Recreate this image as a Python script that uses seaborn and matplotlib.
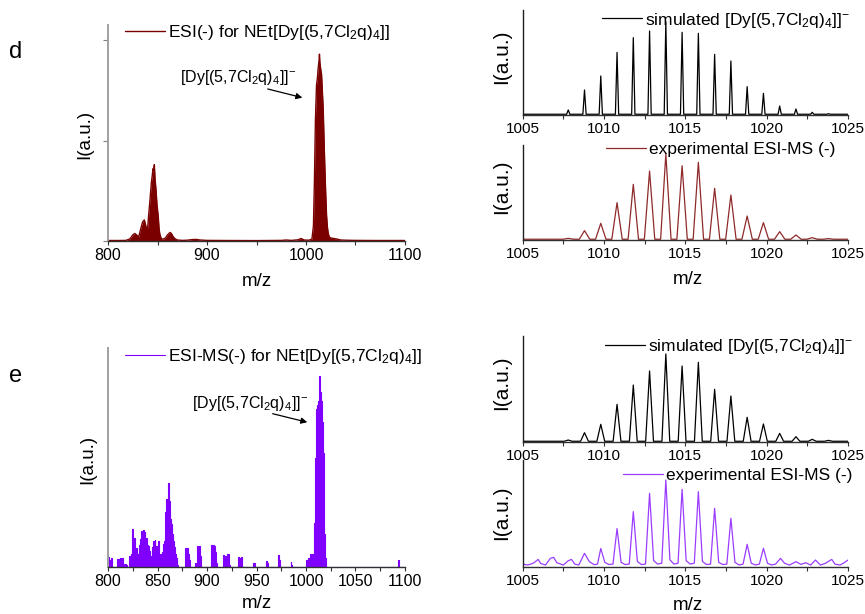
import matplotlib
matplotlib.use('Agg')
import matplotlib.pyplot as plt
from matplotlib.ticker import MultipleLocator
import pandas as pd
import seaborn as sns

# ---------------- data ----------------
# panel d, full spectrum ESI(-)
d_full_mz = [800, 810, 818, 822, 825, 827, 829, 831, 833, 835, 836.7, 838, 839.7, 841, 842.4,
             843.8, 844.8, 845.5, 846.2, 846.8, 847.5, 848.5, 849.5, 850.8, 851.6, 852.5, 854,
             856, 858, 860, 862.6, 864, 866, 868, 870, 875, 880, 885, 889, 893, 900, 920, 950,
             975, 980, 985, 992, 995, 998, 1003, 1006, 1007.5, 1008.5, 1009.5, 1010.6, 1011.5,
             1012.3, 1013.2, 1013.6, 1014, 1015, 1015.7, 1016.5, 1017.4, 1018.2, 1019, 1020,
             1020.8, 1021.6, 1022.4, 1023.5, 1025, 1028, 1031, 1035, 1040, 1050, 1070, 1100]
d_full_int = [0.005, 0.005, 0.006, 0.02, 0.06, 0.075, 0.06, 0.04, 0.12, 0.19, 0.21, 0.16, 0.09,
              0.25, 0.41, 0.58, 0.66, 0.72, 0.70, 0.76, 0.62, 0.51, 0.36, 0.24, 0.12, 0.06, 0.02,
              0.02, 0.03, 0.06, 0.085, 0.075, 0.04, 0.02, 0.01, 0.006, 0.008, 0.014, 0.016, 0.01,
              0.006, 0.005, 0.004, 0.006, 0.01, 0.006, 0.012, 0.025, 0.01, 0.008, 0.02, 0.15,
              0.6, 1.2, 1.55, 1.62, 1.72, 1.80, 1.86, 1.78, 1.70, 1.66, 1.50, 1.31, 1.02, 0.75,
              0.45, 0.25, 0.14, 0.08, 0.04, 0.03, 0.025, 0.02, 0.01, 0.008, 0.006, 0.005, 0.005]

# panel e, full spectrum ESI-MS(-)
e_full_mz = [800, 802, 803.5, 804.5, 809, 810, 812, 813, 814.5, 815.5, 817, 819, 820, 822, 823.5,
             824.6, 825.5, 826.6, 827.5, 829, 830.5, 832.3, 833, 834, 835, 835.7, 836.5, 837.4,
             838.2, 839, 840, 840.7, 841.5, 842.4, 843.2, 844, 844.8, 845.8, 846.6, 847.5, 848.3,
             849.2, 850, 850.8, 851.6, 852.5, 853.3, 854.2, 855, 855.9, 856.7, 857.6, 858.5,
             859.3, 860.1, 860.9, 861.7, 862.6, 863.4, 864.3, 865.2, 866, 867, 867.7, 868.5,
             869.4, 870.5, 871, 877, 877.8, 879, 880, 881, 882, 883, 887, 887.9, 889, 890.2, 891,
             891.9, 893, 894, 903.5, 904.7, 906, 907, 908, 909, 910, 911, 916, 916.5, 918, 919.5,
             921.5, 922.5, 923, 931, 931.6, 933, 935, 936, 945.5, 946.5, 948.5, 949, 959, 959.5,
             961.3, 962, 971.5, 972.5, 973.7, 974.5, 984, 984.8, 985.9, 986.5, 1000, 1001, 1003,
             1005, 1006, 1007.5, 1008.5, 1009.2, 1010.6, 1011.5, 1012.3, 1013.2, 1014, 1014.8,
             1015.7, 1016.5, 1017.4, 1018.2, 1019, 1020, 1020.8, 1092.5, 1093.2, 1094, 1100]
e_full_int = [0.046, 0.03, 0.04, 0, 0, 0.035, 0.02, 0.04, 0.043, 0.01, 0.012, 0.01, 0, 0.05, 0.06,
              0.172, 0.08, 0.134, 0.07, 0.088, 0.06, 0.10, 0.13, 0.164, 0.12, 0.168, 0.14, 0.16,
              0.12, 0.134, 0.10, 0.096, 0.07, 0.073, 0.05, 0.05, 0.09, 0.119, 0.08, 0.122, 0.07,
              0.096, 0.07, 0.119, 0.06, 0.05, 0.06, 0.058, 0.07, 0.104, 0.12, 0.134, 0.25, 0.309,
              0.31, 0.385, 0.30, 0.248, 0.22, 0.195, 0.15, 0.119, 0.09, 0.081, 0.06, 0.043, 0.01,
              0, 0, 0.088, 0.07, 0.088, 0.06, 0.03, 0, 0, 0.02, 0.01, 0.096, 0.08, 0.096, 0.05, 0,
              0, 0.1, 0.08, 0.1, 0.096, 0.07, 0.02, 0, 0, 0.055, 0.05, 0.045, 0.06, 0.01, 0, 0,
              0.046, 0.04, 0.046, 0, 0, 0.02, 0.02, 0, 0, 0.027, 0.02, 0, 0, 0.055, 0.03, 0, 0,
              0.024, 0.01, 0, 0, 0.03, 0.04, 0.058, 0.06, 0.04, 0.2, 0.5, 0.72, 0.74, 0.76, 0.80,
              0.87, 0.80, 0.76, 0.66, 0.52, 0.35, 0.15, 0.04, 0, 0, 0.034, 0, 0]

# isotope patterns (peak centres and relative heights, %)
iso_mz = [1007.8, 1008.8, 1009.8, 1010.8, 1011.8, 1012.8, 1013.8, 1014.8, 1015.8,
          1016.8, 1017.8, 1018.8, 1019.8, 1020.8, 1021.8, 1022.8, 1023.8]
d_sim_int = [5.4, 26.8, 41.8, 67.1, 82.9, 90, 100, 88.6, 87.5, 65, 57.9, 30.4, 23.2, 9.6, 6.4, 2.9, 1.4]
d_exp_int = [1.9, 10.9, 19.4, 43.4, 64.7, 80.2, 100, 86.4, 90.3, 60.1, 52.3, 27.9, 20.2, 9.7, 5.8, 2.7, 1.6]
e_sim_int = [1.9, 10.3, 19.8, 42.6, 64.6, 80.6, 100, 86.3, 90.5, 59.7, 52.1, 27.8, 20.2, 9.5, 5.7, 2.7, 1.5]

# panel e experimental zoomed profile
e_exp_mz = [1005.0, 1005.3, 1005.5, 1005.7, 1005.95, 1006.1, 1006.4, 1006.7, 1006.9, 1007.1, 1007.5,
            1007.8, 1008.0, 1008.2, 1008.45, 1008.8, 1009.1, 1009.4, 1009.6, 1009.8, 1010.05, 1010.3,
            1010.55, 1010.8, 1011.05, 1011.3, 1011.55, 1011.8, 1012.05, 1012.3, 1012.55, 1012.8,
            1013.05, 1013.3, 1013.55, 1013.8, 1014.05, 1014.3, 1014.55, 1014.8, 1015.05, 1015.3,
            1015.55, 1015.8, 1016.05, 1016.3, 1016.55, 1016.8, 1017.05, 1017.3, 1017.55, 1017.8,
            1018.05, 1018.3, 1018.55, 1018.8, 1019.05, 1019.3, 1019.55, 1019.8, 1020.05, 1020.3,
            1020.55, 1020.85, 1021.1, 1021.4, 1021.8, 1022.1, 1022.4, 1022.7, 1023.0, 1023.3,
            1023.6, 1024.0, 1024.2, 1024.5, 1024.7, 1025.0]
e_exp_int = [3, 2, 3, 4.6, 8.4, 3.8, 1.9, 9.6, 10.8, 4.6, 1.9, 6.9, 8.4, 3, 2, 15.4, 5.8, 2.3, 3, 21,
             5, 2.5, 3, 44, 5, 2.5, 3, 63.5, 6, 2.5, 3, 84.6, 7, 3, 4, 100, 8, 3, 4, 89.2, 7, 3, 4,
             86.5, 6, 2.5, 3, 67.3, 5, 2.5, 3, 55.8, 5, 2, 3, 25.8, 4, 2, 3, 21.2, 4, 2, 3, 9.6, 4,
             1.9, 5.8, 2.7, 4.6, 1.9, 7.7, 1.9, 3.8, 8.4, 3, 1.9, 3.8, 7.7]

labels = dict(
    d_full=r"ESI(-) for NEt[Dy[(5,7Cl$_2$q)$_4$]]",
    e_full=r"ESI-MS(-) for NEt[Dy[(5,7Cl$_2$q)$_4$]]",
    sim=r"simulated [Dy[(5,7Cl$_2$q)$_4$]]$^{-}$",
    exp="experimental ESI-MS (-)",
    ion=r"[Dy[(5,7Cl$_2$q)$_4$]]$^{-}$",
)

# ---------------- style ----------------
sns.set_style('ticks')
plt.rcParams['font.family'] = ['Liberation Sans', 'DejaVu Sans']
plt.rcParams['mathtext.fontset'] = 'custom'
plt.rcParams['mathtext.rm'] = 'Liberation Sans'
plt.rcParams['mathtext.it'] = 'Liberation Sans:italic'
plt.rcParams['mathtext.bf'] = 'Liberation Sans:bold'
plt.rcParams['mathtext.default'] = 'regular'
plt.rcParams['text.color'] = 'black'
plt.rcParams['axes.labelcolor'] = 'black'
plt.rcParams['xtick.color'] = 'black'
plt.rcParams['ytick.color'] = 'black'
plt.rcParams['xtick.labelcolor'] = 'black'

MAROON = '#7a0000'
DRED = '#8e2a2a'
PURPLE = '#8000ff'
LPURPLE = '#9b3dff'

W, H = 865, 614
fig = plt.figure(figsize=(8.65, 6.14), dpi=100)


def box(x0, y0, x1, y1):
    return [x0 / W, 1 - y1 / H, (x1 - x0) / W, (y1 - y0) / H]


def fx(px):
    return px / W


def fy(py):
    return 1 - py / H


def profile(centers, heights, w, base, lo=1005, hi=1025):
    xs, ys = [lo], [base]
    for c, h in zip(centers, heights):
        xs += [c - w, c, c + w]
        ys += [base, h, base]
    xs.append(hi)
    ys.append(base)
    return pd.DataFrame({'mz': xs, 'I': ys})


def style_left(ax, major, minor):
    ax.spines[['top', 'right']].set_visible(False)
    ax.spines['left'].set_color('#a0a0a0')
    ax.spines['left'].set_linewidth(1.4)
    ax.spines['bottom'].set_color('#303030')
    ax.spines['bottom'].set_linewidth(1.0)
    ax.set_xlim(800, 1100)
    ax.xaxis.set_major_locator(MultipleLocator(major))
    ax.xaxis.set_minor_locator(MultipleLocator(minor))
    ax.tick_params(axis='x', which='both', direction='out', length=3, width=0.8,
                   color='#303030', labelsize=11.5, pad=2, labelcolor='black')
    ax.set_xlabel('')
    ax.set_ylabel('')


def style_right(ax):
    ax.spines[['top', 'right']].set_visible(False)
    ax.spines['left'].set_color('#202020')
    ax.spines['left'].set_linewidth(1.0)
    ax.spines['bottom'].set_color('#303030')
    ax.spines['bottom'].set_linewidth(1.0)
    ax.set_xlim(1005, 1025)
    ax.xaxis.set_major_locator(MultipleLocator(5))
    ax.xaxis.set_minor_locator(MultipleLocator(2.5))
    ax.tick_params(axis='x', which='both', direction='out', length=3, width=0.8,
                   color='#303030', labelsize=11, pad=2, labelcolor='black')
    ax.set_yticks([])
    ax.set_xlabel('')
    ax.set_ylabel('')


def legend(ax, x0, y0, hl_px=40):
    leg = ax.legend(loc='center left', bbox_to_anchor=(fx(x0), fy(y0)),
                    bbox_transform=fig.transFigure, frameon=False, fontsize=12.5,
                    handlelength=hl_px / 17.4, handletextpad=0.2, borderpad=0, borderaxespad=0)
    for t in leg.get_texts():
        t.set_color('black')


# ---------------- panel d, left ----------------
ax = fig.add_axes(box(108, 25, 405, 241))
df = pd.DataFrame({'mz': d_full_mz, 'I': d_full_int})
ax.fill_between(df['mz'], 0, df['I'], color=MAROON, lw=0)
sns.lineplot(data=df, x='mz', y='I', ax=ax, color=MAROON, lw=1, estimator=None,
             label=labels['d_full'])
style_left(ax, 100, 50)
ax.set_ylim(0, 2.15)
ax.set_yticks([0, 1, 2])
ax.set_yticklabels([])
ax.tick_params(axis='y', direction='out', length=3.5, width=0.8, color='#808080')
legend(ax, 125, 33)
ax.text(872.7, 1.58, labels['ion'], fontsize=11.5, ha='left', va='baseline', color='black')
ax.annotate('', xy=(999, 1.42), xytext=(958.6, 1.52),
            arrowprops=dict(arrowstyle='-|>', color='black', lw=0.9, mutation_scale=9))

# ---------------- panel d, right top ----------------
ax = fig.add_axes(box(522.7, 10, 848, 115))
sns.lineplot(data=profile(iso_mz, d_sim_int, 0.1, 0.8), x='mz', y='I', ax=ax, color='black',
             lw=0.9, estimator=None, label=labels['sim'])
style_right(ax)
ax.set_ylim(0, 112.5)
legend(ax, 602, 20)

# ---------------- panel d, right bottom ----------------
ax = fig.add_axes(box(522.7, 145, 848, 240))
sns.lineplot(data=profile(iso_mz, d_exp_int, 0.32, 0.9), x='mz', y='I', ax=ax, color=DRED,
             lw=0.9, estimator=None, label=labels['exp'])
style_right(ax)
ax.set_ylim(0, 110.5)
legend(ax, 606, 149)

# ---------------- panel e, left ----------------
ax = fig.add_axes(box(108, 348, 405, 567))
df = pd.DataFrame({'mz': e_full_mz, 'I': e_full_int})
ax.fill_between(df['mz'], 0, df['I'], color=PURPLE, lw=0, step='mid')
sns.lineplot(data=df, x='mz', y='I', ax=ax, color=PURPLE, lw=0.8, estimator=None,
             drawstyle='steps-mid', label=labels['e_full'])
style_left(ax, 50, 25)
ax.set_ylim(0, 1)
ax.set_yticks([])
legend(ax, 125, 357)
ax.text(884.8, 0.726, labels['ion'], fontsize=11.5, ha='left', va='baseline', color='black')
ax.annotate('', xy=(1004, 0.658), xytext=(963.6, 0.703),
            arrowprops=dict(arrowstyle='-|>', color='black', lw=0.9, mutation_scale=9))

# ---------------- panel e, right top ----------------
ax = fig.add_axes(box(522.7, 336, 848, 441.7))
sns.lineplot(data=profile(iso_mz, e_sim_int, 0.24, 0.5), x='mz', y='I', ax=ax, color='black',
             lw=0.9, estimator=None, label=labels['sim'])
style_right(ax)
ax.set_ylim(0, 120.5)
legend(ax, 605, 347)

# ---------------- panel e, right bottom ----------------
ax = fig.add_axes(box(522.7, 460, 848, 566.7))
df = pd.DataFrame({'mz': e_exp_mz, 'I': e_exp_int})
sns.lineplot(data=df, x='mz', y='I', ax=ax, color=LPURPLE, lw=0.9, estimator=None,
             label=labels['exp'])
style_right(ax)
ax.set_ylim(0, 123)
legend(ax, 623, 475)

# ---------------- panel letters and axis titles ----------------
fig.text(fx(16), fy(52), 'd', fontsize=17, ha='center', va='center')
fig.text(fx(16), fy(376), 'e', fontsize=17, ha='center', va='center')
for (x, y, s) in [(85, 134, 13.5), (88, 459, 13.5), (502, 57, 15), (502, 187, 15),
                  (502, 383, 15), (502, 513, 15)]:
    fig.text(fx(x), fy(y), 'I(a.u.)', fontsize=s, rotation=90, ha='center', va='center')
for (x, y) in [(257, 281), (688, 280), (257, 604), (688, 606)]:
    fig.text(fx(x), fy(y), 'm/z', fontsize=13.5, ha='center', va='center')

fig.savefig('out.png', dpi=100, facecolor='white')
